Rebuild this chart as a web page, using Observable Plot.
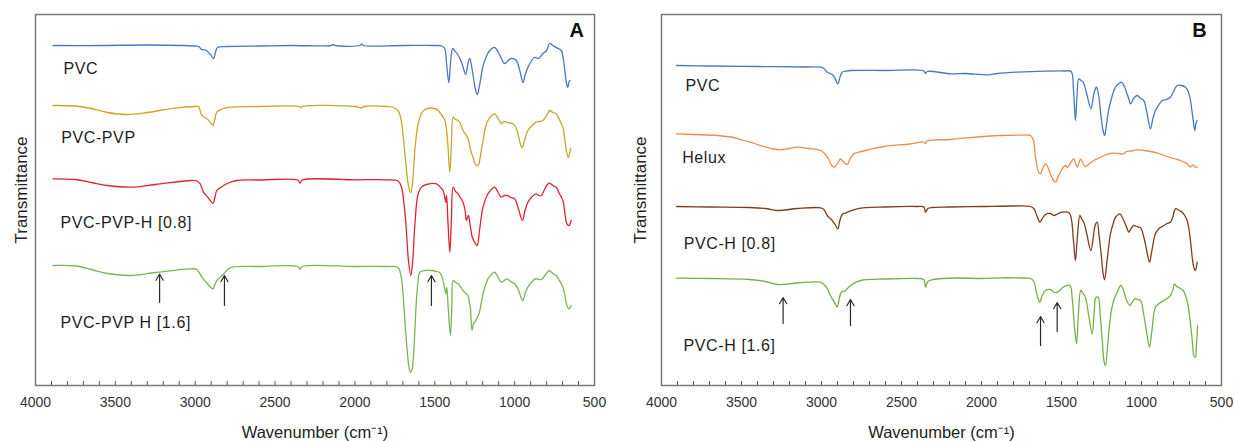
<!DOCTYPE html>
<html><head><meta charset="utf-8">
<script src="https://cdn.jsdelivr.net/npm/d3@7"></script>
<script src="https://cdn.jsdelivr.net/npm/@observablehq/plot@0.6"></script>
<style>
html,body{margin:0;padding:0;background:#fff;}
#wrap{display:flex;width:1235px;height:441px;overflow:hidden;}
#wrap svg{display:block;}
</style></head><body><div id="wrap"></div>
<script>
// ---- tick labels (wavenumber, cm-1) ----
const wnTicks = [4000, 3500, 3000, 2500, 2000, 1500, 1000, 500];
const minorTicks = d3.range(3900, 599, -100);

// ---- Panel A series: [wavenumber, offset transmittance (a.u.)] ----
const A_PVC = [[3890,340],[3600,340],[3300,340.5],[3000,339.5],[2980,339],[2958,336],[2935,335.5],[2905,331],[2885,327],[2872,334],[2860,338],[2800,339],[2600,339.5],[2400,340],[2150,340],[2137,341],[2125,340],[1970,340],[1958,341.5],[1948,340],[1700,340],[1500,340],[1455,339.5],[1438,337],[1425,320],[1412,303],[1400,325],[1388,337],[1372,334],[1360,332],[1330,322],[1306,311],[1292,322],[1281,327],[1265,315],[1245,296],[1233,291],[1220,300],[1200,318],[1187,325],[1156,335],[1125,338],[1098,332],[1063,322],[1040,325],[1021,327],[990,325],[968,315],[948,303],[935,310],[917,318],[875,328],[850,327],[823,332],[800,335],[781,342],[760,340],[740,338],[708,335],[695,326],[688,318],[675,302],[667,298],[659,304],[652,305]];
const A_PVC_PVP = [[3890,280],[3750,279.5],[3650,277],[3550,273],[3427,271],[3300,273],[3114,277.7],[3000,279],[2979,279],[2958,270],[2927,266.7],[2900,262],[2889,260],[2877,266],[2865,273.3],[2830,276.5],[2781,278.3],[2600,279],[2350,279],[2340,277.5],[2330,279],[2000,279],[1958,277.5],[1940,279],[1800,279],[1760,278],[1730,275],[1710,265],[1698,250],[1680,220],[1665,200],[1650,193],[1638,205],[1625,235],[1604,262],[1580,273],[1552,276.7],[1500,277],[1479,275],[1455,270],[1448,268.3],[1436,265],[1420,245],[1406,213],[1395,245],[1385,268.3],[1370,266],[1354,265],[1340,262],[1323,255],[1302,250],[1290,246],[1275,235],[1260,228],[1245,221],[1229,220],[1212,232],[1198,245],[1183,258],[1167,265],[1145,270],[1125,271.7],[1100,266],[1083,261.7],[1068,264],[1052,263.3],[1030,262.5],[1010,261.7],[985,255],[965,242],[952,238],[940,244],[917,255],[890,260],[865,263.3],[845,264],[823,265],[800,270],[781,275],[760,273],[740,271.7],[720,266],[698,258.3],[685,245],[677,235],[663,228],[656,232],[650,237]];
const A_PVC_PVP_H08 = [[3890,206.7],[3750,206],[3650,203],[3550,200],[3406,198.3],[3250,201],[3031,205],[2990,204.5],[2969,201.7],[2948,193.3],[2920,188],[2889,182.3],[2877,188],[2865,195],[2840,198],[2800,202],[2740,205],[2600,205.5],[2360,205.5],[2344,202.5],[2330,205.5],[2000,205.7],[1800,205.7],[1730,204.5],[1708,198],[1695,185],[1680,160],[1665,125],[1650,110],[1638,125],[1625,160],[1604,191.7],[1580,199],[1552,201],[1490,201.7],[1470,199],[1448,195],[1435,186],[1431,183.3],[1426,190],[1418,165],[1406,133.3],[1396,165],[1385,198.3],[1370,194],[1354,191.7],[1340,188],[1323,183.3],[1310,175],[1302,165],[1290,170],[1280,162],[1265,148.3],[1250,143],[1235,140],[1220,155],[1198,178.3],[1167,191.7],[1145,196],[1125,198.3],[1100,192],[1083,188.3],[1065,190],[1046,190],[1025,188],[1000,186.7],[975,176],[952,165],[935,175],[917,183.3],[890,189],[865,191.7],[850,190],[833,190],[810,197],[785,202.3],[760,200],[740,198.3],[720,192],[698,185],[685,172],[673,161.7],[660,160],[646,165]];
const A_PVC_PVP_H16 = [[3890,120],[3750,119.5],[3650,116],[3550,112],[3406,110],[3250,113],[3031,116.7],[2990,116],[2958,108.3],[2930,103],[2889,96.7],[2877,101],[2865,105],[2845,108],[2825,111],[2781,117.7],[2600,119],[2360,119],[2344,116.5],[2330,119],[2000,119],[1800,119],[1730,118],[1712,110],[1698,90],[1685,60],[1670,30],[1660,17],[1650,13],[1640,18],[1628,45],[1615,85],[1604,105],[1594,113.3],[1560,115],[1520,115],[1490,114],[1470,113],[1458,110],[1444,101.7],[1436,95],[1431,91.7],[1425,98],[1415,75],[1402,50],[1393,80],[1385,105],[1370,103],[1354,101.7],[1340,99],[1323,95],[1305,92],[1292,90],[1282,82],[1277,78],[1267,55],[1258,62],[1250,63.3],[1235,68],[1223,71.7],[1210,82],[1198,91.7],[1183,100],[1167,106.7],[1145,111],[1125,113.3],[1100,107],[1083,103.3],[1065,105],[1046,106.7],[1025,104],[1000,101.7],[975,95],[960,88],[948,85],[935,92],[917,98.3],[890,104],[865,107],[850,106],[833,106],[810,110],[785,115],[760,112],[740,110],[720,105],[698,98.3],[685,90],[673,80],[660,76.7],[646,80]];

// ---- Panel B series ----
const B_PVC = [[3906,320],[3700,319.5],[3400,319],[3100,318.5],[3006,318.3],[2985,317],[2964,313.3],[2933,311],[2915,307],[2898,301.7],[2885,308],[2871,313.3],[2840,314.5],[2818,315],[2610,315],[2360,314.5],[2350,312],[2340,314],[2190,311.7],[2100,312],[1965,310.7],[1900,312],[1777,313.3],[1600,314.3],[1480,314.5],[1440,314],[1425,295],[1413,265],[1403,290],[1392,306.7],[1378,305],[1365,303.3],[1340,290],[1316,276.7],[1300,290],[1290,296],[1281,298.3],[1268,290],[1250,265],[1240,255],[1231,250],[1218,262],[1206,275],[1194,283.3],[1163,298.3],[1140,302],[1127,303.3],[1110,300],[1094,293.3],[1080,287],[1069,281.7],[1050,287],[1027,290],[1005,287],[986,285],[965,272],[944,256.7],[930,266],[913,275],[890,281],[871,285],[845,286],[819,288.3],[800,294],[777,300],[750,300],[725,298.3],[708,294],[694,285],[685,275],[677,265],[667,255],[660,262],[652,265]];
const B_Helux = [[3906,251.7],[3800,251],[3652,250],[3550,248],[3486,245],[3420,242],[3361,239],[3300,236.5],[3256,235.7],[3200,237],[3152,238.3],[3080,237],[3006,235],[2975,231],[2954,226],[2935,220],[2919,218.3],[2900,222],[2881,226.7],[2860,223],[2839,221],[2820,227],[2798,231.7],[2750,234],[2700,236],[2610,239],[2450,241.5],[2360,243.5],[2350,242],[2340,244.5],[2200,246],[2089,247.7],[1881,250],[1750,250.3],[1694,250],[1675,245],[1665,232],[1652,218.3],[1642,213],[1631,211.7],[1620,216],[1600,221.7],[1590,220],[1579,216],[1560,208],[1538,203.3],[1520,209],[1496,216.7],[1475,220],[1465,218],[1450,221],[1423,226.7],[1412,222],[1402,218.3],[1390,223],[1381,226.7],[1365,222],[1350,219],[1325,222],[1298,225],[1265,227.5],[1235,230],[1183,232.3],[1140,232],[1110,231.7],[1095,234],[1060,234.5],[1027,235.7],[985,235],[944,234],[890,232],[840,229],[800,227],[756,225],[715,221.7],[694,218.3],[680,220.5],[673,220],[660,218],[652,218.3]];
const B_PVC_H08 = [[3906,179],[3700,178.5],[3450,178],[3350,177],[3277,175],[3150,177],[3006,177.7],[2985,176],[2964,170],[2933,165],[2915,161],[2898,156.7],[2885,165],[2871,171],[2850,172.5],[2777,176.7],[2600,178.5],[2400,179],[2360,178.5],[2350,173.3],[2335,177],[2310,178],[2200,178.5],[2000,179],[1800,179.5],[1694,179],[1673,177],[1655,170],[1642,165],[1636,163.3],[1620,167],[1600,171],[1570,172],[1548,170],[1520,172],[1496,173.3],[1454,173],[1440,168],[1425,145],[1413,125],[1400,150],[1385,170],[1372,166],[1360,163],[1340,150],[1316,135],[1300,150],[1290,160],[1277,163.3],[1265,150],[1250,128],[1240,112],[1231,105.7],[1215,125],[1194,151.7],[1175,163],[1163,168],[1135,171.7],[1120,168],[1106,163.3],[1090,157],[1079,153.3],[1065,157],[1048,160],[1030,159],[1006,157.7],[985,148],[965,133],[950,123.3],[935,135],[913,151.7],[890,157],[860,160],[840,162],[819,163.3],[805,168],[788,176.7],[765,175],[746,173.3],[730,170],[715,165],[705,158],[694,145],[683,128],[673,118.3],[663,115],[652,123.3]];
const B_PVC_H16 = [[3906,107.3],[3700,107],[3450,106],[3350,104],[3277,101],[3150,102.5],[3006,103.3],[2985,101],[2964,97],[2945,90],[2933,86.7],[2915,82],[2902,78.3],[2890,86],[2877,93.3],[2865,94],[2850,95],[2835,97.5],[2819,100],[2756,105],[2600,106.5],[2400,107],[2360,106],[2350,98.3],[2335,104],[2300,106],[2150,107.5],[2000,107],[1881,107.7],[1750,107.5],[1694,107],[1673,104],[1655,92],[1642,85],[1636,83.3],[1620,90],[1600,95],[1569,96],[1545,93],[1525,93.3],[1505,96],[1490,98.3],[1448,100],[1432,85],[1420,60],[1406,41.7],[1395,70],[1379,95],[1365,92],[1350,88],[1330,70],[1308,51.7],[1295,75],[1285,88],[1271,88.3],[1258,70],[1245,45],[1235,25],[1225,20],[1212,40],[1200,60],[1188,75],[1170,87],[1156,91.7],[1129,100],[1110,94],[1095,86],[1073,80],[1060,83],[1042,86.7],[1025,86],[1006,85],[985,70],[965,50],[950,38.3],[935,55],[913,78.3],[890,82],[860,85],[840,87],[819,90],[805,95],[794,101.7],[780,99],[767,98],[740,95],[725,90],[711,81.7],[700,70],[689,55],[680,40],[673,30],[663,28.3],[657,40],[652,51.7],[650,60]];

// ---- labels (name, wavenumber, level) ----
const labelsA = [
  {name: "PVC", wn: 3825, v: 317},
  {name: "PVC-PVP", wn: 3839, v: 248},
  {name: "PVC-PVP-H [0.8]", wn: 3844, v: 163},
  {name: "PVC-PVP H [1.6]", wn: 3844, v: 63}
];
const labelsB = [
  {name: "PVC", wn: 3850, v: 300},
  {name: "Helux", wn: 3871, v: 228},
  {name: "PVC-H [0.8]", wn: 3861, v: 142},
  {name: "PVC-H [1.6]", wn: 3862, v: 40}
];

// ---- arrows (wavenumber, tip level, base level) ----
const arrowsA = [
  {wn: 3223, tip: 111.5, base: 83},
  {wn: 2817, tip: 110, base: 80},
  {wn: 1521, tip: 110, base: 80}
];
const arrowsB = [
  {wn: 3240, tip: 88, base: 62},
  {wn: 2819, tip: 86, base: 60},
  {wn: 1631, tip: 69, base: 40},
  {wn: 1527, tip: 83, base: 54}
];

const seriesA = [
  {pts: A_PVC, color: "#4a76c4"},
  {pts: A_PVC_PVP, color: "#c9a52a"},
  {pts: A_PVC_PVP_H08, color: "#d9262f"},
  {pts: A_PVC_PVP_H16, color: "#7ab552"}
];
const seriesB = [
  {pts: B_PVC, color: "#4a76c4"},
  {pts: B_Helux, color: "#ef8a4c"},
  {pts: B_PVC_H08, color: "#7e3e1c"},
  {pts: B_PVC_H16, color: "#74b046"}
];

const FONT = "'Liberation Sans', Arial, Helvetica, sans-serif";

function panel({series, labels, arrows, letter, letterWn, width, marginLeft, marginRight, yLabelDx}) {
  const svg = Plot.plot({
    width, height: 441,
    marginLeft, marginRight, marginTop: 14, marginBottom: 56,
    x: {domain: [4000, 500], axis: null},
    y: {domain: [0, 371], axis: null},
    style: {fontFamily: FONT, fontSize: "14px", background: "#fff", color: "#333", overflow: "visible"},
    marks: [
      Plot.ruleX(minorTicks, {x: d => d, y1: 0, y2: 4, stroke: "#555", strokeWidth: 1}),
      Plot.axisX({ticks: wnTicks, tickSize: 0, tickPadding: 12, tickFormat: d => String(d), label: null, fill: "#333"}),
      ...series.map(s => Plot.line(s.pts, {x: d => d[0], y: d => d[1], stroke: s.color, strokeWidth: 1.3, curve: "catmull-rom"})),
      Plot.arrow(arrows, {x1: "wn", x2: "wn", y1: "base", y2: "tip", stroke: "#2a2a2a", strokeWidth: 1.2, headLength: 9}),
      Plot.text(labels, {x: "wn", y: "v", text: "name", textAnchor: "start", fontSize: 16, fill: "#1e1e1e"}),
      Plot.text([letter], {x: letterWn, y: 355, text: d => d, fontSize: 20, fontWeight: "bold", fill: "#111"}),
      Plot.text(["Transmittance"], {frameAnchor: "left", text: d => d, rotate: -90, textAnchor: "middle", lineAnchor: "middle", dx: yLabelDx, dy: -10, fontSize: 17, fill: "#222"}),
      Plot.text(["Wavenumber (cm\u207B\u00B9)"], {frameAnchor: "bottom", text: d => d, textAnchor: "middle", lineAnchor: "middle", dy: 47, fontSize: 16.5, fill: "#222"}),
      Plot.frame({stroke: "#777", strokeWidth: 1.5})
    ]
  });
  const names = new Set(labels.map(d => d.name));
  svg.querySelectorAll("text").forEach(t => { if (names.has(t.textContent)) t.style.letterSpacing = "0.6px"; });
  return svg;
}

const wrap = document.getElementById("wrap");
wrap.appendChild(panel({series: seriesA, labels: labelsA, arrows: arrowsA, letter: "A", letterWn: 612, width: 617, marginLeft: 35, marginRight: 23, yLabelDx: -14}));
wrap.appendChild(panel({series: seriesB, labels: labelsB, arrows: arrowsB, letter: "B", letterWn: 637, width: 618, marginLeft: 44, marginRight: 14, yLabelDx: -21}));
</script></body></html>
